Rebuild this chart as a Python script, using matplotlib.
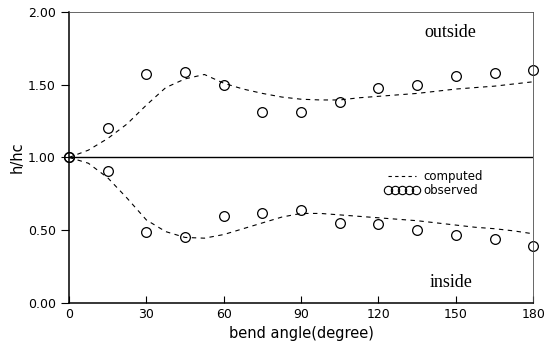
import numpy as np
import matplotlib.pyplot as plt
from matplotlib.lines import Line2D

# observed points
ang_obs = [0, 15, 30, 45, 60, 75, 90, 105, 120, 135, 150, 165, 180]
out_obs = [1.00, 1.20, 1.57, 1.59, 1.50, 1.31, 1.31, 1.38, 1.48, 1.50, 1.56, 1.58, 1.60]
in_obs = [1.00, 0.91, 0.49, 0.45, 0.60, 0.62, 0.64, 0.55, 0.54, 0.50, 0.47, 0.44, 0.39]

ang_c = [0, 7.5, 15, 22.5, 30, 37.5, 45, 52.5, 60, 67.5, 75, 82.5, 90, 97.5, 105,
         112.5, 120, 127.5, 135, 142.5, 150, 157.5, 165, 172.5, 180]
out_c = [1.00, 1.05, 1.13, 1.23, 1.36, 1.48, 1.54, 1.57, 1.51, 1.47, 1.44, 1.415, 1.40,
         1.395, 1.395, 1.41, 1.42, 1.43, 1.44, 1.455, 1.47, 1.48, 1.49, 1.505, 1.52]
in_c = [1.00, 0.96, 0.86, 0.72, 0.57, 0.49, 0.45, 0.445, 0.47, 0.51, 0.55, 0.59, 0.615,
        0.615, 0.605, 0.595, 0.585, 0.575, 0.565, 0.55, 0.535, 0.52, 0.51, 0.495, 0.475]

plt.rcParams['font.family'] = 'DejaVu Sans'
fig = plt.figure(figsize=(5.48, 3.51), dpi=100)
ax = fig.add_axes([0.126, 0.137, 0.847, 0.829])

ax.axhline(1.0, color='black', lw=1.0)
ax.plot(ang_c, out_c, ls=(0, (4, 4)), color='black', lw=0.8)
ax.plot(ang_c, in_c, ls=(0, (4, 4)), color='black', lw=0.8)
ax.plot(ang_obs, out_obs, 'o', mfc='none', mec='black', ms=7, mew=0.9, clip_on=False)
ax.plot(ang_obs, in_obs, 'o', mfc='none', mec='black', ms=7, mew=0.9, clip_on=False)

ax.set_xlim(0, 180)
ax.set_ylim(0, 2)
ax.set_xticks(range(0, 181, 30))
ax.set_yticks([0, 0.5, 1.0, 1.5, 2.0])
ax.set_yticklabels(['0.00', '0.50', '1.00', '1.50', '2.00'])
ax.tick_params(axis='x', direction='in', length=5, labelsize=9, pad=4)
ax.tick_params(axis='y', direction='out', length=6, labelsize=9)
for s in ['top', 'right']:
    ax.spines[s].set_linewidth(0.6)
    ax.spines[s].set_color('0.3')
for s in ['left', 'bottom']:
    ax.spines[s].set_linewidth(1.1)

ax.set_xlabel('bend angle(degree)', fontsize=10.5, labelpad=3)
ax.set_ylabel('h/hc', fontsize=10.5, labelpad=2)

ax.text(148, 1.86, 'outside', family='Liberation Serif', fontsize=13, ha='center', va='center')
ax.text(148, 0.14, 'inside', family='Liberation Serif', fontsize=13, ha='center', va='center')

h1 = Line2D([], [], ls=(0, (3, 3)), color='black', lw=0.8)
h2 = Line2D([], [], ls='none', marker='o', mfc='none', mec='black', ms=6, mew=0.8)
ax.legend([h1, h2], ['computed', 'observed'], loc='center', bbox_to_anchor=(0.785, 0.41),
          frameon=False, fontsize=8.5, numpoints=5, handlelength=3.0,
          handletextpad=0.3, labelspacing=0.05)

fig.savefig('out.png', dpi=100)
